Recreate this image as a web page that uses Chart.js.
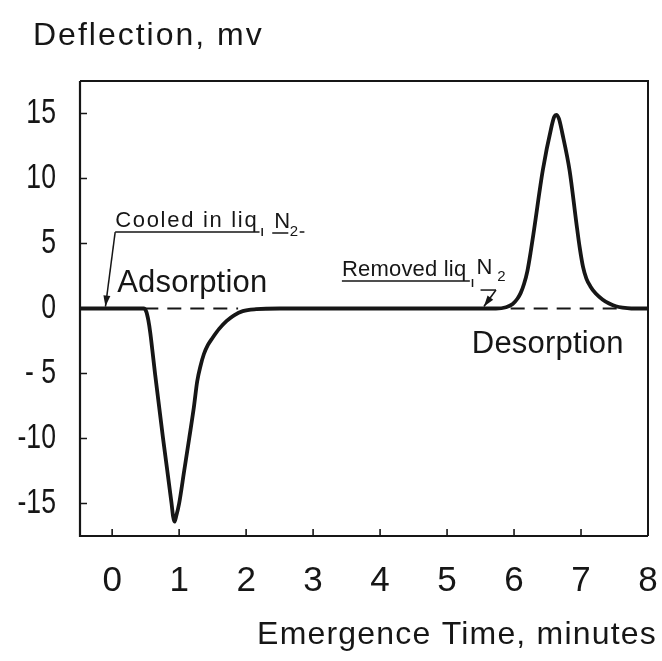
<!DOCTYPE html>
<html>
<head>
<meta charset="utf-8">
<script src="https://cdn.jsdelivr.net/npm/chart.js@4.4.1/dist/chart.umd.min.js"></script>
<style>
  html, body { margin: 0; padding: 0; background: #ffffff; }
  #wrap { width: 662px; height: 661px; }
</style>
</head>
<body>
<div id="wrap"><canvas id="chart" width="662" height="661"></canvas></div>
<script>
// Recorder trace: deflection (mV) against emergence time (minutes)
const timeMinutes = [-0.48, 0.47, 0.51, 0.54, 0.57, 0.6, 0.64, 0.76, 0.887, 0.91,
                     0.93, 0.955, 1.0, 1.075, 1.15, 1.22, 1.27, 1.32, 1.37, 1.43,
                     1.5, 1.6, 1.71, 1.82, 1.95, 2.15, 2.5,
                     5.73, 5.88, 5.98, 6.05, 6.1, 6.15, 6.2, 6.25, 6.3, 6.43,
                     6.56, 6.6, 6.63, 6.67, 6.72, 6.83, 6.93, 6.98, 7.03, 7.08,
                     7.14, 7.22, 7.32, 7.42, 7.52, 7.62, 7.75, 8.0];
const deflectionMv = [0, 0, -0.25, -0.9, -1.9, -3.2, -5, -10, -15, -16.0,
                      -16.4, -16.0, -15, -12.5, -10, -7.6, -5.6, -4.4, -3.5, -2.8,
                      -2.25, -1.55, -0.95, -0.52, -0.2, -0.05, 0,
                      0, 0.1, 0.35, 0.75, 1.2, 1.9, 2.9, 4.4, 6.1, 10.65,
                      14.0, 14.75, 14.9, 14.6, 13.5, 10.6, 6.6, 4.7, 3.2, 2.3,
                      1.7, 1.15, 0.7, 0.38, 0.17, 0.06, 0, 0];

// Dashed zero reference under each peak (start and end time, minutes)
const adsorptionZeroSpan = [0.48, 1.88];
const desorptionZeroSpan = [5.95, 7.6];

// Axis ticks
const xTickValues = [0, 1, 2, 3, 4, 5, 6, 7, 8];
const xTickLabels = ['0', '1', '2', '3', '4', '5', '6', '7', '8'];
const yTickValues = [-15, -10, -5, 0, 5, 10, 15];
const yTickLabels = ['-15', '-10', '- 5', '0', '5', '10', '15'];

// Event markers on the time axis (minutes)
const cooledAt = -0.1;
const removedAt = 5.55;

const FONT = "'Liberation Sans', Arial, sans-serif";
const INK = '#161616';

function spanData(span) {
  return span.map(t => ({ x: t, y: 0 }));
}

function drawArrow(ctx, x1, y1, x2, y2) {
  ctx.beginPath();
  ctx.moveTo(x1, y1);
  ctx.lineTo(x2, y2);
  ctx.stroke();
  const a = Math.atan2(y2 - y1, x2 - x1);
  const len = 11, half = 3.5;
  ctx.beginPath();
  ctx.moveTo(x2, y2);
  ctx.lineTo(x2 - len * Math.cos(a) + half * Math.sin(a), y2 - len * Math.sin(a) - half * Math.cos(a));
  ctx.lineTo(x2 - len * Math.cos(a) - half * Math.sin(a), y2 - len * Math.sin(a) + half * Math.cos(a));
  ctx.closePath();
  ctx.fill();
}

function text(ctx, str, x, y, size, spacing, align) {
  ctx.save();
  ctx.font = size + 'px ' + FONT;
  ctx.fillStyle = INK;
  ctx.textAlign = align || 'left';
  ctx.textBaseline = 'alphabetic';
  if ('letterSpacing' in ctx) ctx.letterSpacing = (spacing || 0) + 'px';
  ctx.fillText(str, x, y);
  ctx.restore();
}

// Narrow lettering for the deflection tick labels (squeezed toward their right-aligned anchor)
const narrowYLabels = {
  id: 'narrowYLabels',
  beforeDraw(chart) {
    const s = chart.scales.y;
    if (!s || s._narrowed) return;
    const orig = s.drawLabels.bind(s);
    s.drawLabels = function (area) {
      const ctx = this.ctx;
      const anchor = this.right - this.options.ticks.padding;
      ctx.save();
      ctx.translate(anchor, 0);
      ctx.scale(0.76, 1);
      ctx.translate(-anchor, 0);
      orig(area);
      ctx.restore();
    };
    s._narrowed = true;
  }
};

const notesPlugin = {
  id: 'chromatogramNotes',
  afterDraw(chart) {
    const ctx = chart.ctx;
    const area = chart.chartArea;
    const xs = chart.scales.x, ys = chart.scales.y;
    const px = v => xs.getPixelForValue(v);
    const py = v => ys.getPixelForValue(v);

    ctx.save();
    ctx.strokeStyle = INK;
    ctx.fillStyle = INK;
    ctx.lineCap = 'butt';

    // frame
    ctx.lineWidth = 2.2;
    ctx.beginPath();
    ctx.moveTo(area.left, area.top);
    ctx.lineTo(area.left, area.bottom);
    ctx.lineTo(area.right, area.bottom);
    ctx.stroke();
    ctx.lineWidth = 2;
    ctx.beginPath();
    ctx.moveTo(area.left, area.top);
    ctx.lineTo(area.right, area.top);
    ctx.lineTo(area.right, area.bottom);
    ctx.stroke();

    // inward tick marks
    ctx.lineWidth = 1.6;
    ctx.beginPath();
    yTickValues.forEach(v => {
      const y = py(v);
      ctx.moveTo(area.left, y);
      ctx.lineTo(area.left + 7, y);
    });
    xTickValues.forEach(v => {
      const x = px(v);
      if (x >= area.right - 1) return;
      ctx.moveTo(x, area.bottom);
      ctx.lineTo(x, area.bottom - 7);
    });
    ctx.stroke();

    // axis titles
    text(ctx, 'Deflection, mv', area.left - 47, area.top - 36, 32, 2);
    text(ctx, 'Emergence Time, minutes', area.right + 9, area.bottom + 108, 32, 1.2, 'right');

    // peak labels
    text(ctx, 'Adsorption', px(0.075), py(1.27), 31, 0.2);
    text(ctx, 'Desorption', px(5.37), py(-3.42), 31, 0.2);

    // "Cooled in liq N2" with leader arrow to the time axis
    ctx.lineWidth = 1.5;
    const cx0 = px(0.045), cUnder = py(5.88);
    text(ctx, 'Cooled in liq', cx0, py(6.27), 22, 1.7);
    ctx.beginPath();
    ctx.moveTo(cx0, cUnder);
    ctx.lineTo(px(2.2), cUnder);
    ctx.moveTo(px(2.24), cUnder - 4);
    ctx.lineTo(px(2.24), cUnder + 4);
    ctx.moveTo(px(2.39), cUnder + 1);
    ctx.lineTo(px(2.63), cUnder + 1);
    ctx.moveTo(px(2.8), cUnder);
    ctx.lineTo(px(2.87), cUnder);
    ctx.stroke();
    text(ctx, 'N', px(2.42), py(6.2), 22, 0);
    text(ctx, '2', px(2.65), py(5.6), 15, 0);
    drawArrow(ctx, cx0, cUnder, px(cooledAt), py(0.15));

    // "Removed liq N2" with leader arrow
    const rx0 = px(3.43), rUnder = py(2.12);
    text(ctx, 'Removed liq', rx0, py(2.5), 22, 0.2);
    ctx.beginPath();
    ctx.moveTo(rx0, rUnder);
    ctx.lineTo(px(5.34), rUnder);
    ctx.moveTo(px(5.38), rUnder - 2);
    ctx.lineTo(px(5.38), rUnder + 6);
    ctx.stroke();
    text(ctx, 'N', px(5.44), py(2.62), 22, 0);
    text(ctx, '2', px(5.75), py(2.1), 15, 0);
    ctx.beginPath();
    ctx.moveTo(px(5.5), py(1.42));
    ctx.lineTo(px(5.73), py(1.42));
    ctx.stroke();
    drawArrow(ctx, px(5.73), py(1.42), px(removedAt), py(0.15));

    ctx.restore();
  }
};

new Chart(document.getElementById('chart'), {
  type: 'line',
  data: {
    datasets: [
      {
        label: 'Deflection',
        data: timeMinutes.map((t, i) => ({ x: t, y: deflectionMv[i] })),
        borderColor: INK,
        borderWidth: 3.8,
        pointRadius: 0,
        fill: false,
        cubicInterpolationMode: 'monotone'
      },
      {
        label: 'Zero (adsorption)',
        data: spanData(adsorptionZeroSpan),
        borderColor: INK,
        borderWidth: 2,
        borderDash: [14, 9],
        pointRadius: 0,
        fill: false
      },
      {
        label: 'Zero (desorption)',
        data: spanData(desorptionZeroSpan),
        borderColor: INK,
        borderWidth: 2,
        borderDash: [14, 9],
        pointRadius: 0,
        fill: false
      }
    ]
  },
  options: {
    responsive: false,
    animation: false,
    devicePixelRatio: 1,
    layout: { padding: { top: 81, right: 14, left: 0, bottom: 0 } },
    plugins: { legend: { display: false }, tooltip: { enabled: false }, title: { display: false } },
    scales: {
      x: {
        type: 'linear',
        min: -0.48,
        max: 8,
        afterBuildTicks: s => { s.ticks = xTickValues.map(v => ({ value: v })); },
        afterFit: s => { s.height = 125; s.paddingLeft = 0; s.paddingRight = 0; },
        grid: { display: false },
        border: { display: false },
        ticks: {
          autoSkip: false,
          maxRotation: 0,
          padding: 16,
          color: INK,
          font: { family: FONT, size: 35 },
          callback: (v, i) => xTickLabels[i]
        }
      },
      y: {
        type: 'linear',
        min: -17.5,
        max: 17.5,
        afterBuildTicks: s => { s.ticks = yTickValues.map(v => ({ value: v })); },
        afterFit: s => { s.width = 80; s.paddingTop = 0; s.paddingBottom = 0; },
        grid: { display: false },
        border: { display: false },
        ticks: {
          autoSkip: false,
          padding: 18,
          color: INK,
          font: { family: FONT, size: 35 },
          callback: (v, i) => yTickLabels[i]
        }
      }
    }
  },
  plugins: [narrowYLabels, notesPlugin]
});
</script>
</body>
</html>
